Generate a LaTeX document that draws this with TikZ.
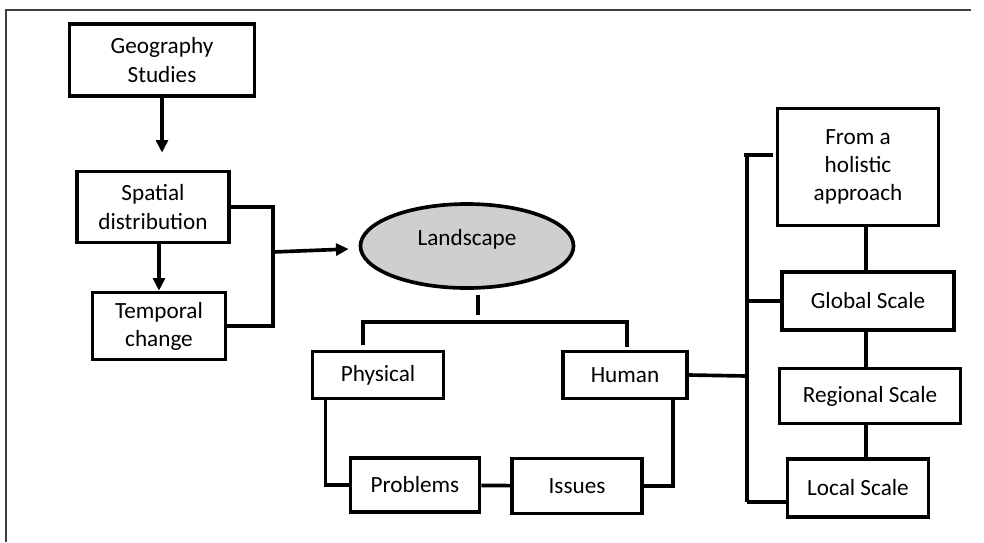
\documentclass[tikz,border=0pt]{standalone}
\usepackage{fontspec}
\setmainfont{Carlito}
\usetikzlibrary{arrows.meta,calc,shapes.geometric}
\definecolor{landgray}{RGB}{208,206,206}
\begin{document}
\begin{tikzpicture}[x=0.025cm,y=-0.025cm,
    line width=2.6pt,
    every node/.style={font=\fontsize{16.5}{20}\selectfont, align=center, inner sep=2pt},
    box/.style={draw, rectangle},
    arr/.style={-{Triangle[length=9pt,width=8.5pt]}}]
  \useasboundingbox (0,0) rectangle (984,542);
  \draw[line width=0.9pt, black!75] (971,10) -- (6,10) -- (6,542);
  % left column
  \node[box, minimum width=4.625cm, minimum height=1.8cm] (geo) at (162,60) {Geography\\Studies};
  \node[box, minimum width=3.8cm, minimum height=1.775cm] (spatial) at (153,207) {Spatial\\distribution};
  \node[box, minimum width=3.325cm, minimum height=1.675cm] (temporal) at (159,326) {Temporal\\change};
  % centre
  \node[ellipse, draw, fill=landgray, minimum width=5.325cm, minimum height=2.1cm, text depth=12pt] (land) at (467,246) {Landscape};
  \node[box, minimum width=3.275cm, minimum height=1.175cm] (physical) at (378,375) {Physical};
  \node[box, minimum width=3.1cm, minimum height=1.175cm] (human) at (625,375) {Human};
  \node[box, minimum width=3.225cm, minimum height=1.35cm] (problems) at (415,485) {Problems};
  \node[box, minimum width=3.25cm, minimum height=1.375cm] (issues) at (577,486) {Issues};
  % right column
  \node[box, minimum width=4.025cm, minimum height=2.925cm] (holistic) at (858,167) {From a\\holistic\\approach};
  \node[box, minimum width=4.3cm, minimum height=1.45cm] (global) at (868,301) {Global Scale};
  \node[box, minimum width=4.525cm, minimum height=1.375cm] (regional) at (870,396) {Regional Scale};
  \node[box, minimum width=3.525cm, minimum height=1.45cm] (local) at (858,488) {Local Scale};
  \coordinate (jL) at (273,252);
  \coordinate (jM) at (478,322);
  \coordinate (jR) at (747,376);
  \coordinate (rTop) at (747,155);
  \coordinate (rBot) at (747,502);
  \coordinate (cx) at (866,0);
  % connectors
  \draw[arr, shorten >=0.425cm] (geo.south) -- (geo.south |- spatial.north);
  \draw[arr] (temporal.north |- spatial.south) -- (temporal.north);
  \draw (spatial.east) -| (jL) |- (temporal.east);
  \draw[arr] (jL) -- ($(land.west)+(-10,3)$);
  \draw ($(land.south)+(11,5)$) -- ($(jM)+(0,-7)$);
  \draw ($(physical.north)+(-15,-5)$) |- (jM) -| ($(human.north)+(2,-3)$);
  \draw ($(physical.south west)+(15,0)$) |- (problems.west);
  \draw (problems) -- (issues);
  \draw (issues.east) -| ($(human.south east)+(-16,0)$);
  \draw (human.east) -- (jR);
  \draw (rTop) -- (rBot);
  \draw ($(rTop)+(-3,0)$) -- ($(holistic.west |- rTop)+(-3,0)$);
  \draw (rTop |- global.west) -- (global.west);
  \draw (rBot) -- (local.west |- rBot);
  \draw (holistic.south -| cx) -- (global.north -| cx);
  \draw (global.south -| cx) -- (regional.north -| cx);
  \draw (regional.south -| cx) -- (local.north -| cx);
\end{tikzpicture}
\end{document}
